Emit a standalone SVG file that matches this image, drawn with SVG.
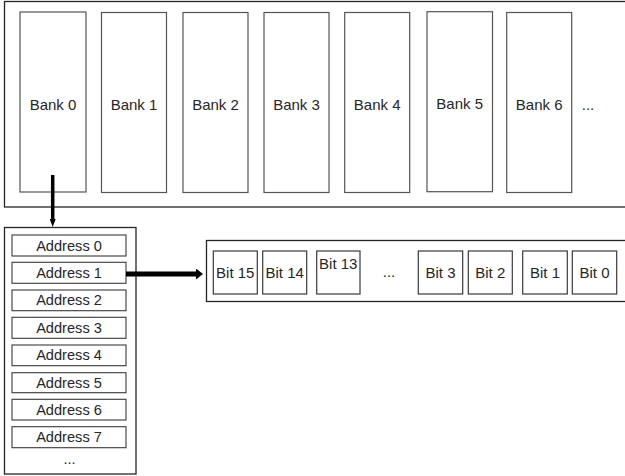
<svg xmlns="http://www.w3.org/2000/svg" width="625" height="476" viewBox="0 0 625 476">
<defs>
<style>
.frame{fill:#fff;stroke:#262626;stroke-width:1.3}
.bank{fill:#fff;stroke:#555;stroke-width:1.2}
.addr{fill:#fff;stroke:#3a3a3a;stroke-width:1.1}
.bit{fill:#fff;stroke:#3a3a3a;stroke-width:1.2}
.t{font-family:"Liberation Sans",Arial,sans-serif;font-size:15px;fill:#262626;text-anchor:middle}
.ta{font-family:"Liberation Sans",Arial,sans-serif;font-size:14.6px;fill:#262626;text-anchor:middle}
.conn{stroke:#000;fill:none}
</style>
<marker id="ahD" markerWidth="8" markerHeight="6" refX="2" refY="3" orient="auto" markerUnits="userSpaceOnUse" viewBox="0 0 8 6">
<path d="M0,0 L8,3 L0,6 Z" fill="#000"/>
</marker>
<marker id="ahR" markerWidth="7" markerHeight="11" refX="2" refY="5.5" orient="auto" markerUnits="userSpaceOnUse" viewBox="0 0 7 11">
<path d="M0,0 L7,5.5 L0,11 Z" fill="#000"/>
</marker>
</defs>
<rect width="625" height="476" fill="#fff"/>

<g id="banks-frame"><rect class="frame" x="4.5" y="1.5" width="630" height="205.5"/></g>
<g id="bank0"><rect class="bank" x="20" y="12" width="66" height="180"/><text class="t" x="53" y="109.5">Bank 0</text></g>
<g id="bank1"><rect class="bank" x="101.5" y="12.5" width="65" height="180"/><text class="t" x="134" y="109.5">Bank 1</text></g>
<g id="bank2"><rect class="bank" x="183" y="12.5" width="65" height="180"/><text class="t" x="215.5" y="109.5">Bank 2</text></g>
<g id="bank3"><rect class="bank" x="264" y="12.5" width="65" height="180"/><text class="t" x="296.5" y="109.5">Bank 3</text></g>
<g id="bank4"><rect class="bank" x="344.7" y="12.5" width="65" height="180"/><text class="t" x="377.2" y="109.5">Bank 4</text></g>
<g id="bank5"><rect class="bank" x="427" y="11.7" width="65.5" height="180"/><text class="t" x="459.7" y="109">Bank 5</text></g>
<g id="bank6"><rect class="bank" x="506.7" y="12.5" width="65" height="180"/><text class="t" x="539.2" y="109.5">Bank 6</text></g>
<g id="bank-more"><text class="t" x="588" y="110">...</text></g>

<g id="address-frame"><rect class="frame" x="4.5" y="227.5" width="131.5" height="246.5"/></g>
<g id="addr0"><rect class="addr" x="12" y="235" width="114" height="21"/><text class="ta" x="69" y="250.5">Address 0</text></g>
<g id="addr1"><rect class="addr" x="12" y="262.3" width="114" height="21"/><text class="ta" x="69" y="277.8">Address 1</text></g>
<g id="addr2"><rect class="addr" x="12" y="290" width="114" height="20.7"/><text class="ta" x="69" y="305.3">Address 2</text></g>
<g id="addr3"><rect class="addr" x="12" y="317.3" width="114" height="21"/><text class="ta" x="69" y="332.8">Address 3</text></g>
<g id="addr4"><rect class="addr" x="12" y="345" width="114" height="20.7"/><text class="ta" x="69" y="360.3">Address 4</text></g>
<g id="addr5"><rect class="addr" x="12" y="372.7" width="114" height="20"/><text class="ta" x="69" y="387.7">Address 5</text></g>
<g id="addr6"><rect class="addr" x="12" y="399.3" width="114" height="20.7"/><text class="ta" x="69" y="414.6">Address 6</text></g>
<g id="addr7"><rect class="addr" x="12" y="426.7" width="114" height="21"/><text class="ta" x="69" y="442.2">Address 7</text></g>
<g id="addr-more"><text class="ta" x="69.5" y="464">...</text></g>

<g id="bits-frame"><rect class="frame" x="206.5" y="240.5" width="430" height="61"/></g>
<g id="bit15"><rect class="bit" x="213.3" y="251" width="44" height="43"/><text class="t" x="235.3" y="277.5">Bit 15</text></g>
<g id="bit14"><rect class="bit" x="262.7" y="251" width="44" height="43"/><text class="t" x="284.7" y="277.5">Bit 14</text></g>
<g id="bit13"><rect class="bit" x="316.7" y="251" width="43.3" height="43"/><text class="t" x="338.3" y="268.5">Bit 13</text></g>
<g id="bit-more"><text class="t" x="389" y="277">...</text></g>
<g id="bit3"><rect class="bit" x="418.3" y="251" width="44.4" height="43"/><text class="t" x="440.5" y="277.5">Bit 3</text></g>
<g id="bit2"><rect class="bit" x="468.3" y="251" width="44" height="43"/><text class="t" x="490.3" y="277.5">Bit 2</text></g>
<g id="bit1"><rect class="bit" x="522.7" y="251" width="44.6" height="43"/><text class="t" x="545" y="277.5">Bit 1</text></g>
<g id="bit0"><rect class="bit" x="572.3" y="251" width="44.4" height="43"/><text class="t" x="594.5" y="277.5">Bit 0</text></g>

<g id="connectors">
<line class="conn" x1="52.7" y1="175" x2="52.7" y2="221" stroke-width="3.5" marker-end="url(#ahD)"/>
<line class="conn" x1="126" y1="274" x2="198" y2="274" stroke-width="5" marker-end="url(#ahR)"/>
</g>
</svg>
